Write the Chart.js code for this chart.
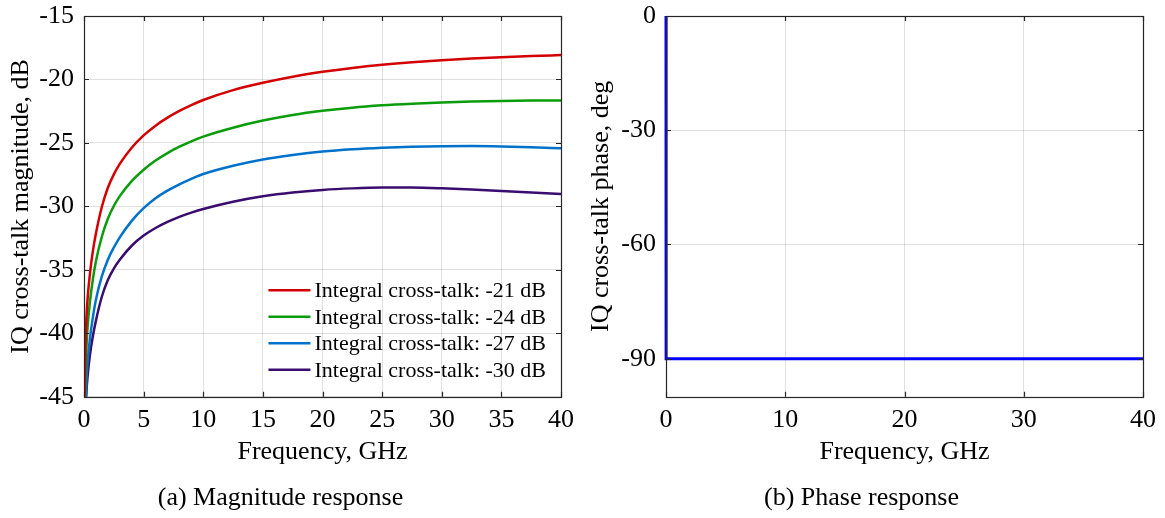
<!DOCTYPE html>
<html>
<head>
<meta charset="utf-8">
<script src="https://cdn.jsdelivr.net/npm/chart.js@4.4.1/dist/chart.umd.min.js"></script>
<style>
  html, body { margin: 0; padding: 0; background: #fff; }
  #wrap { position: relative; width: 1165px; height: 518px; }
  canvas { position: absolute; top: 0; }
  #magCanvas { left: 0; }
  #phaseCanvas { left: 580px; }
</style>
</head>
<body>
<div id="wrap">
  <canvas id="magCanvas" width="580" height="518"></canvas>
  <canvas id="phaseCanvas" width="585" height="518"></canvas>
</div>
<script>
// frequency grid (GHz) shared by the magnitude curves
const freqGHz = [0.05, 0.1, 0.2, 0.3, 0.5, 0.75, 1, 1.5, 2, 2.5, 3, 4, 5, 6, 7, 8, 9, 10,
  12.5, 15, 17.5, 20, 22.5, 25, 27.5, 30, 32.5, 35, 37.5, 40];

// IQ cross-talk magnitude, dB
const xtalk21 = [-45.2, -42.0, -38.88, -37.28, -35.28, -33.48, -32.13, -30.03, -28.53, -27.48, -26.65, -25.38, -24.41, -23.64, -23.01, -22.48, -22.02, -21.62,
  -20.84, -20.26, -19.78, -19.40, -19.09, -18.84, -18.64, -18.48, -18.35, -18.24, -18.15, -18.08];
const xtalk24 = [-46.5, -44.0, -41.2, -39.5, -37.5, -35.7, -34.32, -32.37, -30.97, -29.97, -29.19, -28.01, -27.11, -26.39, -25.80, -25.30, -24.87, -24.5,
  -23.8, -23.24, -22.8, -22.47, -22.22, -22.04, -21.91, -21.81, -21.74, -21.69, -21.66, -21.65];
const xtalk27 = [-49.5, -47.0, -43.9, -42.3, -40.4, -38.7, -37.35, -35.5, -34.2, -33.24, -32.44, -31.14, -30.14, -29.36, -28.76, -28.26, -27.83, -27.45,
  -26.8, -26.3, -25.95, -25.68, -25.5, -25.38, -25.3, -25.26, -25.25, -25.28, -25.34, -25.42];
const xtalk30 = [-49.2, -47.2, -44.7, -43.4, -41.7, -40.2, -39.0, -37.1, -35.8, -34.9, -34.2, -33.1, -32.3, -31.7, -31.22, -30.82, -30.49, -30.2,
  -29.63, -29.2, -28.9, -28.7, -28.58, -28.52, -28.52, -28.57, -28.66, -28.78, -28.9, -29.02];

const magLabels = [
  "Integral cross-talk: -21 dB",
  "Integral cross-talk: -24 dB",
  "Integral cross-talk: -27 dB",
  "Integral cross-talk: -30 dB"
];
const magColors = ["#d40000", "#0a9c0a", "#0072cc", "#3a0c70"];
const magTicksX = [0, 5, 10, 15, 20, 25, 30, 35, 40];
const magTicksY = [-45, -40, -35, -30, -25, -20, -15];

// IQ cross-talk phase, deg
const phaseFreqGHz = [0, 0.01, 10, 20, 30, 40];
const phaseDeg = [0, -90, -90, -90, -90, -90];
const phaseTicksX = [0, 10, 20, 30, 40];
const phaseTicksY = [-90, -60, -30, 0];

const SERIF = "'Liberation Serif', 'Times New Roman', serif";
Chart.defaults.font.family = SERIF;
Chart.defaults.color = "#000";

function toPoints(xs, ys) {
  return xs.map((x, i) => ({ x: x, y: ys[i] }));
}

function fixedTicks(values) {
  return function (scale) {
    scale.ticks = values.map(v => ({ value: v }));
  };
}

// MATLAB-style box: frame on all four sides with inward tick marks
const boxFrame = {
  id: "boxFrame",
  afterDatasetsDraw(chart) {
    const { ctx, chartArea: a, scales } = chart;
    const len = 5;
    ctx.save();
    ctx.strokeStyle = "#262626";
    ctx.lineWidth = 1.2;
    ctx.beginPath();
    scales.x.ticks.forEach(t => {
      const px = Math.round(scales.x.getPixelForValue(t.value)) + 0.5;
      ctx.moveTo(px, a.bottom); ctx.lineTo(px, a.bottom - len);
      ctx.moveTo(px, a.top); ctx.lineTo(px, a.top + len);
    });
    scales.y.ticks.forEach(t => {
      const py = Math.round(scales.y.getPixelForValue(t.value)) + 0.5;
      ctx.moveTo(a.left, py); ctx.lineTo(a.left + len, py);
      ctx.moveTo(a.right, py); ctx.lineTo(a.right - len, py);
    });
    ctx.stroke();
    ctx.strokeRect(Math.round(a.left) + 0.5, Math.round(a.top) + 0.5,
      Math.round(a.right - a.left), Math.round(a.bottom - a.top));
    ctx.restore();
  }
};

// legend drawn inside the plot, lower right, without a box
const insideLegend = {
  id: "insideLegend",
  afterDatasetsDraw(chart, args, opts) {
    if (!opts.display) return;
    const { ctx, chartArea: a } = chart;
    const sets = chart.data.datasets;
    ctx.save();
    ctx.font = "22px " + SERIF;
    const textW = Math.max(...sets.map(d => ctx.measureText(d.label).width));
    const lineLen = 42, gap = 4, rowH = 26.5;
    const textX = a.right - opts.right - textW;
    const lineX = textX - gap - lineLen;
    let rowY = a.bottom - opts.bottom - (sets.length - 1) * rowH;
    sets.forEach(d => {
      ctx.strokeStyle = d.borderColor;
      ctx.lineWidth = d.borderWidth;
      ctx.beginPath();
      ctx.moveTo(lineX, rowY);
      ctx.lineTo(lineX + lineLen, rowY);
      ctx.stroke();
      ctx.fillStyle = "#000";
      ctx.textBaseline = "middle";
      ctx.textAlign = "left";
      ctx.fillText(d.label, textX, rowY + 1);
      rowY += rowH;
    });
    ctx.restore();
  }
};

function axisOptions(cfg) {
  return {
    x: {
      type: "linear",
      min: cfg.xMin, max: cfg.xMax,
      afterBuildTicks: fixedTicks(cfg.xTicks),
      afterFit: s => { s.height = 86; s.paddingLeft = 0; s.paddingRight = 0; },
      ticks: { font: { size: 26 }, padding: 8, maxRotation: 0, autoSkip: false, color: "#000" },
      grid: { color: "rgba(0,0,0,0.12)", drawTicks: false },
      border: { display: false },
      title: { display: true, text: cfg.xTitle, font: { size: 26 }, color: "#000", padding: { top: 0, bottom: 15 } }
    },
    y: {
      type: "linear",
      min: cfg.yMin, max: cfg.yMax,
      afterBuildTicks: fixedTicks(cfg.yTicks),
      afterFit: s => { s.width = cfg.yWidth; s.paddingTop = 0; s.paddingBottom = 0; },
      ticks: { font: { size: 26 }, padding: 10, autoSkip: false, color: "#000" },
      grid: { color: "rgba(0,0,0,0.12)", drawTicks: false },
      border: { display: false },
      title: { display: true, text: cfg.yTitle, font: { size: 26 }, color: "#000", padding: { top: 6, bottom: 0 } }
    }
  };
}

function captionOptions(text) {
  return { display: true, position: "bottom", text: text, font: { size: 26, weight: "normal" }, color: "#000", padding: 0 };
}

const magSeries = [xtalk21, xtalk24, xtalk27, xtalk30];

new Chart(document.getElementById("magCanvas"), {
  type: "line",
  data: {
    datasets: magSeries.map((ys, i) => ({
      label: magLabels[i],
      data: toPoints(freqGHz, ys),
      borderColor: magColors[i],
      borderWidth: 2.5,
      pointRadius: 0,
      cubicInterpolationMode: "monotone",
      fill: false
    }))
  },
  options: {
    responsive: false,
    animation: false,
    events: [],
    layout: { padding: { left: 0, right: 19, top: 16, bottom: 4 } },
    scales: axisOptions({
      xMin: 0, xMax: 40, xTicks: magTicksX, xTitle: "Frequency, GHz",
      yMin: -45, yMax: -15, yTicks: magTicksY, yTitle: "IQ cross-talk magnitude, dB", yWidth: 84
    }),
    plugins: {
      legend: { display: false },
      tooltip: { enabled: false },
      title: captionOptions("(a) Magnitude response"),
      insideLegend: { display: true, right: 15, bottom: 27 }
    }
  },
  plugins: [boxFrame, insideLegend]
});

new Chart(document.getElementById("phaseCanvas"), {
  type: "line",
  data: {
    datasets: [{
      label: "Phase",
      data: toPoints(phaseFreqGHz, phaseDeg),
      borderColor: "#0000ff",
      borderWidth: 3,
      pointRadius: 0,
      tension: 0,
      clip: 4,
      fill: false
    }]
  },
  options: {
    responsive: false,
    animation: false,
    events: [],
    layout: { padding: { left: 0, right: 22, top: 16, bottom: 4 } },
    scales: axisOptions({
      xMin: 0, xMax: 40, xTicks: phaseTicksX, xTitle: "Frequency, GHz",
      yMin: -100, yMax: 0, yTicks: phaseTicksY, yTitle: "IQ cross-talk phase, deg", yWidth: 86
    }),
    plugins: {
      legend: { display: false },
      tooltip: { enabled: false },
      title: captionOptions("(b) Phase response"),
      insideLegend: { display: false }
    }
  },
  plugins: [boxFrame, insideLegend]
});
</script>
</body>
</html>
